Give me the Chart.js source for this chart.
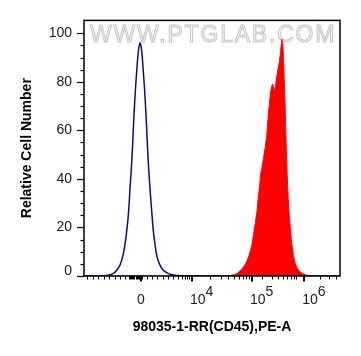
<!DOCTYPE html>
<html><head><meta charset="utf-8">
<script src="https://cdn.jsdelivr.net/npm/chart.js@4"></script>
<style>html,body{margin:0;padding:0;background:#fff}</style>
</head><body>
<canvas id="c" width="361" height="356"></canvas>
<script>
// Fluorescence channel (display units of the biexponential axis, 0..1024) and relative cell number
const controlX = [0, 64, 92, 116, 132, 144, 156, 164, 172, 178, 184, 191, 197, 204, 212, 218, 224, 230, 236, 244, 251, 257, 264, 271, 277, 284, 292, 304, 316, 331, 348, 372, 404, 1024];
const controlY = [0, 0, 0.2, 1, 2.5, 4.5, 8.5, 13, 19.5, 26, 36, 47, 60, 74, 86, 93, 96, 93.5, 86, 74, 60, 47, 36, 26.5, 19, 13, 8, 4.5, 2.5, 1.4, 0.6, 0.2, 0, 0];
const stainedX = [0, 564, 592, 612, 628, 640, 651, 660, 671, 678, 684, 691, 697, 704, 708, 712, 717, 724, 731, 737, 744, 750, 755, 759, 763, 768, 774, 780, 786, 791, 795, 798, 801, 804, 807, 810, 813, 817, 821, 826, 831, 837, 844, 854, 864, 876, 892, 912, 1024];
const stainedY = [0, 0, 0.3, 1, 2.5, 4, 6, 8.5, 12.5, 17, 21, 26, 32, 39, 43, 44.5, 48, 52.5, 58, 66, 73.5, 78, 79, 77, 76.5, 80, 84, 87.5, 92, 97.5, 95.5, 90, 81, 72, 61, 50, 41, 32, 25, 19, 13.5, 9, 5.5, 3, 1.8, 0.9, 0.3, 0, 0];

// Axis ticks (x in channel units)
const xTickValues = [228, 432, 672, 881];
const xTickBases = ['0', '10', '10', '10'];
const xTickExponents = ['', '4', '5', '6'];
const xMinorTicks = [12, 34, 56, 78, 100, 122, 144, 164, 180, 184, 188, 192, 196, 200, 208, 212, 216, 220, 224, 232, 251, 271, 293, 317, 337, 357, 377, 391, 404, 413, 421,
  504, 546, 576, 600, 619, 635, 649, 661, 713, 750, 776, 796, 812, 826, 838, 849, 944, 981, 1007];
const yTickLabels = ['0', '20', '40', '60', '80', '100'];

const FONT = '"Liberation Sans", Arial, sans-serif';

const decor = {
  id: 'decor',
  beforeDatasetsDraw(chart) {
    const {ctx, chartArea: a} = chart;
    ctx.save();
    ctx.font = '23px ' + FONT;
    ctx.letterSpacing = '1.8px';
    ctx.textAlign = 'left';
    ctx.textBaseline = 'alphabetic';
    ctx.lineWidth = 1;
    ctx.fillStyle = '#f6f6f6';
    ctx.strokeStyle = '#c6c6c6';
    ctx.fillText('WWW.PTGLAB.COM', a.left + 6, a.top + 22);
    ctx.strokeText('WWW.PTGLAB.COM', a.left + 6, a.top + 22);
    ctx.restore();
  },
  afterDraw(chart) {
    const {ctx, chartArea: a, scales: {x, y}} = chart;
    ctx.save();
    ctx.strokeStyle = '#000';
    // y ticks
    y.ticks.forEach(t => {
      if (t.value > 100) return;
      const py = Math.round(y.getPixelForValue(t.value)) + 0.5;
      const major = t.value % 20 === 0;
      ctx.lineWidth = 1.2;
      ctx.beginPath();
      ctx.moveTo(a.left - (major ? 7 : 3.5), py);
      ctx.lineTo(a.left, py);
      ctx.stroke();
    });
    // y "0" label, lifted slightly above its tick as in the reference
    ctx.fillStyle = '#1a1a1a';
    ctx.font = '14px ' + FONT;
    ctx.textAlign = 'right';
    ctx.textBaseline = 'middle';
    ctx.fillText(yTickLabels[0], a.left - 12, y.getPixelForValue(0) - 5);
    // x minor ticks
    ctx.lineWidth = 1;
    xMinorTicks.forEach(v => {
      const px = Math.round(x.getPixelForValue(v)) + 0.5;
      ctx.beginPath();
      ctx.moveTo(px, a.bottom);
      ctx.lineTo(px, a.bottom + 3.5);
      ctx.stroke();
    });
    // x major ticks
    ctx.lineWidth = 2;
    xTickValues.forEach(v => {
      const px = Math.round(x.getPixelForValue(v));
      ctx.beginPath();
      ctx.moveTo(px, a.bottom);
      ctx.lineTo(px, a.bottom + 5.5);
      ctx.stroke();
    });
    // frame
    ctx.lineWidth = 1.5;
    ctx.strokeRect(a.left, a.top, a.right - a.left, a.bottom - a.top);
    // x tick labels
    ctx.fillStyle = '#1a1a1a';
    ctx.textBaseline = 'alphabetic';
    xTickValues.forEach((v, i) => {
      const px = x.getPixelForValue(v);
      ctx.font = '14px ' + FONT;
      if (!xTickExponents[i]) {
        ctx.textAlign = 'center';
        ctx.fillText(xTickBases[i], px, a.bottom + 28);
      } else {
        ctx.textAlign = 'left';
        const x0 = px - 2;
        ctx.fillText(xTickBases[i], x0, a.bottom + 28);
        const w = ctx.measureText(xTickBases[i]).width;
        ctx.fillText(xTickExponents[i], x0 + w, a.bottom + 19.5);
      }
    });
    ctx.restore();
  }
};

new Chart(document.getElementById('c'), {
  type: 'line',
  data: {
    datasets: [
      {
        label: 'Control',
        data: controlX.map((v, i) => ({x: v, y: controlY[i]})),
        borderColor: '#0a0a8a',
        borderWidth: 1.5,
        pointRadius: 0,
        tension: 0.35,
        fill: false
      },
      {
        label: '98035-1-RR',
        data: stainedX.map((v, i) => ({x: v, y: stainedY[i]})),
        borderColor: '#ff0000',
        backgroundColor: '#ff0000',
        borderWidth: 1,
        pointRadius: 0,
        tension: 0.1,
        fill: 'origin'
      }
    ]
  },
  options: {
    responsive: false,
    animation: false,
    devicePixelRatio: 1,
    layout: {padding: {left: 0, right: 21, top: 20, bottom: 0}},
    plugins: {legend: {display: false}, tooltip: {enabled: false}},
    scales: {
      x: {
        type: 'linear', min: 0, max: 1024,
        grid: {display: false, drawTicks: false},
        border: {display: false},
        ticks: {display: false},
        title: {display: true, text: '98035-1-RR(CD45),PE-A', color: '#000',
          font: {family: FONT, size: 14, weight: 'bold'}, padding: {top: 0, bottom: 20.5}},
        afterFit(s) { s.height = 80; }
      },
      y: {
        min: 0, max: 105.3,
        grid: {display: false, drawTicks: false},
        border: {display: false},
        ticks: {
          stepSize: 5, padding: 12, color: '#1a1a1a', autoSkip: false,
          font: {family: FONT, size: 14},
          callback: (v) => (v % 20 === 0 && v > 0 && v <= 100) ? yTickLabels[v / 20] : ''
        },
        title: {display: true, text: 'Relative Cell Number', color: '#000',
          font: {family: FONT, size: 14, weight: 'bold'}, padding: {top: 19, bottom: 0}},
        afterFit(s) { s.width = 84; }
      }
    }
  },
  plugins: [decor]
});
</script>
</body></html>
